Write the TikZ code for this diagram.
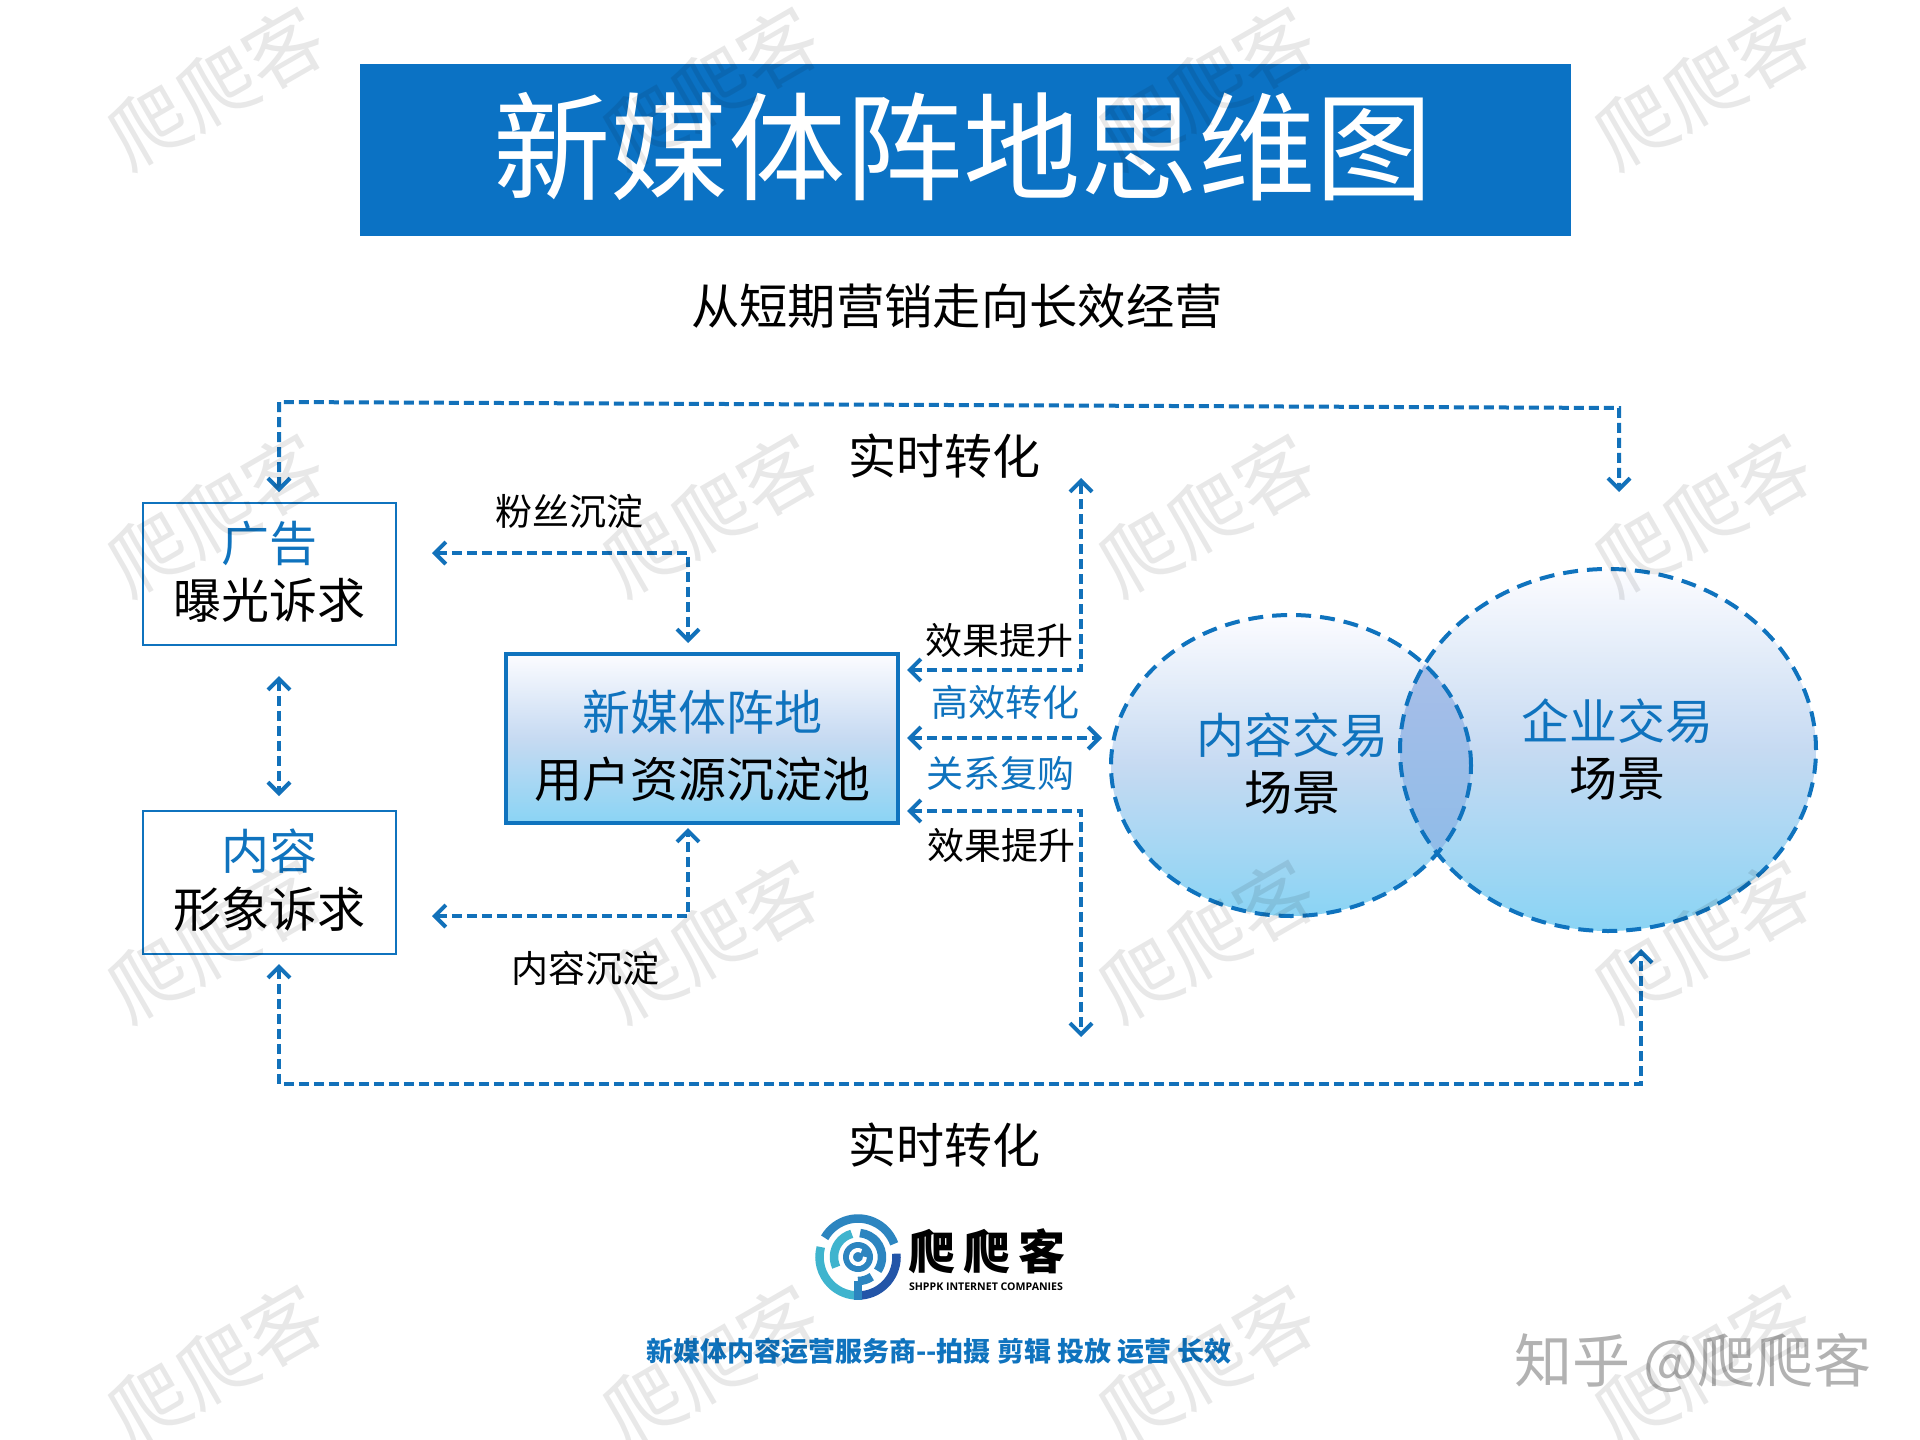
\documentclass[tikz,border=0pt]{standalone}
\usepackage{fontspec}
\setmainfont{Noto Sans CJK SC}
\newfontfamily\latinsans{Open Sans}
\usetikzlibrary{arrows.meta,shapes.geometric,positioning}
\newcommand\pxfont[1]{\fontsize{#1}{#1}\selectfont}
\definecolor{mainblue}{HTML}{0F73BE}
\definecolor{titleblue}{HTML}{0B72C4}
\definecolor{linkblue}{HTML}{1271BA}
\definecolor{skyb}{HTML}{8AD4F4}
\definecolor{midb}{HTML}{C6DAF2}
\definecolor{topb}{HTML}{FCFCFF}
\definecolor{lenst}{HTML}{A9BEE8}
\definecolor{lensb}{HTML}{8FBCE8}
\definecolor{logoa}{HTML}{3FB4CE}
\definecolor{logob}{HTML}{2C85C0}
\definecolor{logoc}{HTML}{2355A8}
\tikzset{
  link/.style={draw=linkblue,line width=4pt,dash pattern=on 10pt off 5pt,
    {Straight Barb[length=11pt,width=22pt,line width=4pt]}-{Straight Barb[length=11pt,width=22pt,line width=4pt]}},
  whitebox/.style={draw=mainblue,line width=2.8pt,fill=white,rectangle,inner sep=0pt},
  txt/.style={inner sep=0pt,align=center,font=\pxfont{48}},
  smalltxt/.style={inner sep=0pt,font=\pxfont{37}},
  bluetxt/.style={text=mainblue},
  mark text/.style={inner sep=0pt,rotate=30,font=\pxfont{78},text=black,opacity=.09},
  venn/.style={ellipse,inner sep=0pt,top color=topb,bottom color=skyb,middle color=midb},
  vennline/.style={ellipse,inner sep=0pt,draw=mainblue,line width=4pt,dash pattern=on 15pt off 9pt},
  logoarc/.style={line width=8.5pt,line cap=butt},
}
\begin{document}
\begin{tikzpicture}[x=1pt,y=-1pt]
\useasboundingbox (0,0) rectangle (1920,1440);
\fill[white] (0,0) rectangle (1920,1440);

% title
\node[fill=titleblue,minimum width=1211pt,minimum height=172pt,inner sep=0pt] (titlebar) at (965.5,150) {};
\node[inner sep=0pt,text=white,font=\pxfont{117.5}] (title) at (963,147) {新媒体阵地思维图};
\node[txt,font=\pxfont{48.3}] (subtitle) at (957,306) {从短期营销走向长效经营};

% left boxes
\node[whitebox,minimum width=253pt,minimum height=142pt] (adbox) at (269.5,574) {};
\node[txt,bluetxt] (adt) at (269,543) {广告};
\node[txt] (adb) at (269,600) {曝光诉求};
\node[whitebox,minimum width=253pt,minimum height=143pt] (conbox) at (269.5,882.5) {};
\node[txt,bluetxt] (cont) at (269,851) {内容};
\node[txt] (conb) at (269,909) {形象诉求};

% centre box
\node[rectangle,draw=mainblue,line width=3.8pt,top color=topb,bottom color=skyb,middle color=midb,
  minimum width=392pt,minimum height=169pt,inner sep=0pt] (pool) at (702,738.5) {};
\node[txt,bluetxt] (poolt) at (702,712) {新媒体阵地};
\node[txt] (poolb) at (702,779) {用户资源沉淀池};

% venn
\node[venn,minimum width=360pt,minimum height=301pt] (vl) at (1291,765.5) {};
\node[venn,minimum width=416pt,minimum height=362pt] (vr) at (1608,750) {};
\begin{scope}
  \clip (1291,765.5) ellipse [x radius=180pt,y radius=150.5pt];
  \clip (1608,750) ellipse [x radius=208pt,y radius=181pt];
  \shade[top color=lenst,bottom color=lensb] (1380,650) rectangle (1480,860);
\end{scope}
\node[vennline,minimum width=360pt,minimum height=301pt] (vlo) at (1291,765.5) {};
\node[vennline,minimum width=416pt,minimum height=362pt] (vro) at (1608,750) {};
\node[txt,bluetxt] (ct) at (1292,735) {内容交易};
\node[txt] (cb) at (1292,793) {场景};
\node[txt,bluetxt] (et) at (1617,721) {企业交易};
\node[txt] (eb) at (1617,779) {场景};

% labels
\node[txt] (rt1) at (944,456) {实时转化};
\node[txt] (rt2) at (944,1145) {实时转化};
\node[smalltxt] (fans) at (569,511) {粉丝沉淀};
\node[smalltxt] (cdep) at (585,968) {内容沉淀};
\node[smalltxt] (eff1) at (999,640) {效果提升};
\node[smalltxt,bluetxt] (high) at (1005,702) {高效转化};
\node[smalltxt,bluetxt] (rel) at (1000,773) {关系复购};
\node[smalltxt] (eff2) at (1001,845) {效果提升};

% free ends of connectors
\coordinate (tl) at (279,492);
\coordinate (tla) at (279,402);
\coordinate (tra) at (1619,408);
\coordinate (tr) at (1619,492);
\coordinate (bl) at (279,964);
\coordinate (bla) at (279,1084);
\coordinate (bra) at (1641,1084);
\coordinate (br) at (1641,949);
\coordinate (lv1) at (279,676);
\coordinate (lv2) at (279,796);
\coordinate (fa) at (432,553);
\coordinate (fb) at (688,553);
\coordinate (fc) at (688,643);
\coordinate (ca) at (432,916);
\coordinate (cc) at (688,916);
\coordinate (cd) at (688,828);
\coordinate (ra) at (907,670);
\coordinate (rb) at (1081,670);
\coordinate (rc) at (1081,478);
\coordinate (ma) at (907,738);
\coordinate (mb) at (1102,738);
\coordinate (sa) at (907,811);
\coordinate (sb) at (1081,811);
\coordinate (sc) at (1081,1037);

\draw[link] (tl) -- (tla) -- (tra) -- (tr);
\draw[link] (bl) -- (bla) -- (bra) -- (br);
\draw[link] (lv1) -- (lv2);
\draw[link] (fa) -- (fb) -- (fc);
\draw[link] (ca) -- (cc) -- (cd);
\draw[link] (ra) -- (rb) -- (rc);
\draw[link] (ma) -- (mb);
\draw[link] (sa) -- (sb) -- (sc);

% logo
\begin{scope}[shift={(858,1257)},x=1pt,y=1pt]
  \draw[logoarc,color=logoa] (165:38.5) arc[start angle=165,end angle=265,radius=38.5];
  \draw[logoarc,color=logob] (150:38.5) arc[start angle=150,end angle=20,radius=38.5];
  \draw[logoarc,color=logoc] (5:38.5) arc[start angle=5,end angle=-85,radius=38.5];
  \draw[logoarc,color=logoa] (205:24) arc[start angle=205,end angle=105,radius=24];
  \draw[logoarc,color=logob] (85:24) arc[start angle=85,end angle=-35,radius=24];
  \draw[logoarc,color=logob] (-55:24) arc[start angle=-55,end angle=-90,radius=24];
  \draw[logoarc,color=logob] (0,-24) -- (0,-43);
  \fill[color=logob] (0,0) circle[radius=15];
  \draw[white,line width=4pt] (60:7) arc[start angle=60,end angle=360,radius=7];
\end{scope}
\node[inner sep=0pt,font=\pxfont{47}\bfseries] (brand) at (987,1251) {爬\,爬\,客};
\node[inner sep=0pt,font=\latinsans\pxfont{10.6}\bfseries] (brand2) at (986,1287) {SHPPK INTERNET COMPANIES};
\node[inner sep=0pt,text=mainblue,font=\pxfont{27}\bfseries] (slogan) at (939,1351) {新媒体内容运营服务商-{}-拍摄 剪辑 投放 运营 长效};
\node[inner sep=0pt,text=black!30,font=\pxfont{58}] (zhihu) at (1693,1363) {知乎 @爬爬客};

% watermarks
\foreach \wy [count=\r] in {87,514,940,1365}
  \foreach \wx [count=\c] in {216,711,1207,1703}
    \node[mark text] (wm\r\c) at (\wx,\wy) {爬爬客};
\end{tikzpicture}
\end{document}
